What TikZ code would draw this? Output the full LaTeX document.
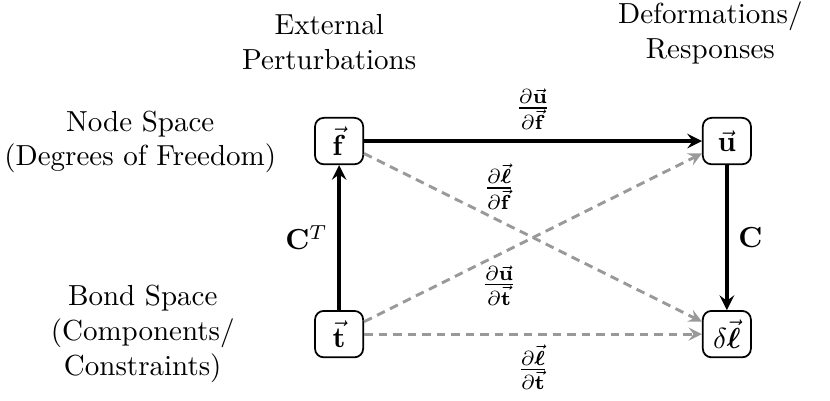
\documentclass[tikz,border=0pt]{standalone}
\usepackage{amsmath}
\usepackage{amssymb}
\usepackage{xcolor}
\usepackage{tikz}
\usetikzlibrary{arrows}

\begin{document}
\begin{tikzpicture}[
        var/.style = {draw, semithick, rounded corners=3pt, minimum width=16.6pt, minimum height=16pt, inner sep=1.5pt},
        direct/.style = {-stealth, very thick},
        cross/.style = {-stealth, line width=1pt, dash pattern=on 3pt off 2pt, gray!80},
        side/.style = {align=center}]
        \useasboundingbox (0, 0) rectangle (10.06, 4.86);

        \node[var] (f) at (4.11, 3.15) {$\vec{\mathbf{f}}$};
        \node[var] (u) at (8.81, 3.15) {$\vec{\mathbf{u}}$};
        \node[var] (t) at (4.11, 0.81) {$\vec{\mathbf{t}}$};
        \node[var] (dl) at (8.81, 0.81) {$\delta\vec{\boldsymbol{\ell}}$};

        \node[side] (nodespace) at (1.70, 3.14) {Node Space\\(Degrees of Freedom)};
        \node[side] (bondspace) at (1.73, 0.81) {Bond Space\\(Components/\\Constraints)};
        \node[side] (external) at (3.99, 4.35) {External\\Perturbations};
        \node[side] (deform) at (8.61, 4.46) {Deformations/\\Responses};

        \draw[direct] (f) -- (u)
            node[midway, above] {$\frac{\partial\vec{\mathbf{u}}}{\partial\vec{\mathbf{f}}}$};
        \draw[direct] (u) -- (dl)
            node[midway, right] {$\mathbf{C}$};
        \draw[direct] (t) -- (f)
            node[midway, left] {$\mathbf{C}^T$};

        \draw[cross] (f) -- (dl)
            node[pos=0.4, above, black] {$\frac{\partial\vec{\boldsymbol{\ell}}}{\partial\vec{\mathbf{f}}}$};
        \draw[cross] (t) -- (u)
            node[pos=0.4, below, black] {$\frac{\partial\vec{\mathbf{u}}}{\partial\vec{\mathbf{t}}}$};
        \draw[cross] (t) -- (dl)
            node[midway, below, black] {$\frac{\partial\vec{\boldsymbol{\ell}}}{\partial\vec{\mathbf{t}}}$};
\end{tikzpicture}
\end{document}
